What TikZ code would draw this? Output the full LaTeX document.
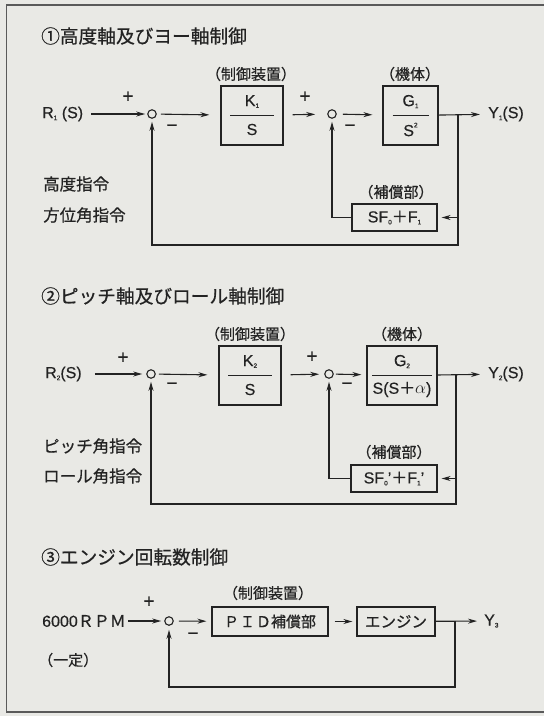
\documentclass[tikz,border=0pt]{standalone}
\usepackage{fontspec}
\setmainfont{Liberation Sans}[FakeBold=0.4]
\newfontfamily\jp{Noto Sans CJK JP}[FakeBold=0.6]
\usetikzlibrary{arrows.meta}
\definecolor{bg}{RGB}{233,233,229}
\definecolor{ink}{RGB}{35,35,35}
\definecolor{frm}{RGB}{90,90,90}
\newcommand\sbs[1]{\raisebox{-0.12em}{\fontsize{6.5}{6.5}\selectfont #1}}
\newcommand\sps[1]{\raisebox{0.55em}{\fontsize{6.5}{6.5}\selectfont #1}}
\tikzset{
 arr/.style={draw=ink, line width=1.1pt, -{Stealth[length=9pt,width=5pt]}},
 ln/.style={draw=ink, line width=1.1pt},
 sumpt/.style={circle, draw=ink, line width=1.1pt, inner sep=0pt, minimum size=8.5pt},
 blk/.style={draw=ink, line width=1.2pt, inner sep=0pt},
 ttl/.style={anchor=west, font=\jp\fontsize{18.7}{20}\selectfont, text=ink, inner sep=0pt},
 lab/.style={font=\jp\fontsize{15}{16}\selectfont, text=ink, inner sep=0pt},
 cmd/.style={anchor=west, font=\jp\fontsize{16.5}{18}\selectfont, text=ink, inner sep=0pt},
 lat/.style={font=\fontsize{16}{17}\selectfont, text=ink, inner sep=0pt},
 sgn/.style={font=\fontsize{19}{20}\selectfont, text=ink, inner sep=0pt},
}
\begin{document}
\begin{tikzpicture}[x=1pt,y=-1pt]
\useasboundingbox (0,0) rectangle (544,716);
\fill[bg] (0,0) rectangle (544,716);
\draw[frm, line width=1.5pt] (544,5) -- (6.5,5) -- (6.5,712) -- (544,712);

% ---------- Section 1 ----------
\node[ttl] (title1) at (41,36) {①高度軸及びヨー軸制御};
\node[lab] (ctl1) at (251,74) {（制御装置）};
\node[lab] (plant1) at (410,74) {（機体）};
\node[blk, minimum width=62pt, minimum height=59pt] (k1) at (252,115.5) {};
\node[lat] (k1n) at ([yshift=14pt]k1.center) {K\sbs{1}};
\draw[ln] ([xshift=-22pt]k1.center) -- ([xshift=22pt]k1.center);
\node[lat] (k1d) at ([yshift=-14pt]k1.center) {S};
\node[blk, minimum width=55pt, minimum height=59pt] (g1) at (410.5,115.5) {};
\node[lat] (g1n) at ([yshift=14pt]g1.center) {G\sbs{1}};
\draw[ln] ([xshift=-18pt]g1.center) -- ([xshift=18pt]g1.center);
\node[lat] (g1d) at ([yshift=-14pt]g1.center) {S\sps{2}};
\node[lat, anchor=west] (r1) at (42,114) {R\sbs{1}\ (S)};
\node[sumpt] (s1) at (152,114) {};
\node[sumpt] (s2) at (332,114) {};
\node[lat, anchor=west] (y1) at (488,114) {Y\sbs{1}(S)};
\coordinate (b1) at (458,114);
\coordinate (bot1) at (0,245);
\node[blk, minimum width=85pt, minimum height=27pt] (h1) at (394.5,217.5) {};
\node[lat] (h1t) at (h1.center) {SF\sbs{0}{\jp ＋}F\sbs{1}};
\node[lab] (comp1) at (396,192) {（補償部）};
\node[cmd] (cmd1a) at (43,184) {高度指令};
\node[cmd] (cmd1b) at (43,215) {方位角指令};
\node[sgn] (p1) at (128,97) {+};
\node[sgn] (m1) at (172,128) {−};
\node[sgn] (p2) at (305,97) {+};
\node[sgn] (m2) at (350,128) {−};
\draw[arr, shorten <=8pt, shorten >=2pt] (r1) -- (s1);
\draw[arr, shorten <=4pt, shorten >=11pt] (s1) -- (k1);
\draw[arr, shorten <=9pt, shorten >=12pt] (k1) -- (s2);
\draw[arr, shorten <=6pt, shorten >=10pt] (s2) -- (g1);
\draw[arr, shorten >=8pt] (g1) -- (y1);
\draw[arr, shorten >=3pt] (b1) -- (b1 |- bot1) -| (s1);
\draw[arr, shorten >=4pt] (b1 |- h1.east) -- (h1.east);
\draw[arr, shorten >=3pt] (h1.west) -| (s2);

% ---------- Section 2 ----------
\node[ttl] (title2) at (41,296) {②ピッチ軸及びロール軸制御};
\node[lab] (ctl2) at (250,334) {（制御装置）};
\node[lab] (plant2) at (402,334) {（機体）};
\node[blk, minimum width=62pt, minimum height=59pt] (k2) at (250,375.5) {};
\node[lat] (k2n) at ([yshift=14pt]k2.center) {K\sbs{2}};
\draw[ln] ([xshift=-22pt]k2.center) -- ([xshift=22pt]k2.center);
\node[lat] (k2d) at ([yshift=-14pt]k2.center) {S};
\node[blk, minimum width=70pt, minimum height=59pt] (g2) at (402,375.5) {};
\node[lat] (g2n) at ([yshift=14pt]g2.center) {G\sbs{2}};
\draw[ln] ([xshift=-30pt]g2.center) -- ([xshift=30pt]g2.center);
\node[lat] (g2d) at ([yshift=-14pt]g2.center) {S(S{\jp ＋}$\alpha$)};
\node[lat, anchor=west] (r2) at (45,374) {R\sbs{2}(S)};
\node[sumpt] (s3) at (151,374) {};
\node[sumpt] (s4) at (329,374) {};
\node[lat, anchor=west] (y2) at (488,374) {Y\sbs{2}(S)};
\coordinate (b2) at (456,374);
\coordinate (bot2) at (0,504);
\node[blk, minimum width=86pt, minimum height=27pt] (h2) at (394,478.5) {};
\node[lat] (h2t) at (h2.center) {SF\sbs{0}'{\jp ＋}F\sbs{1}'};
\node[lab] (comp2) at (394,452) {（補償部）};
\node[cmd] (cmd2a) at (43,446) {ピッチ角指令};
\node[cmd] (cmd2b) at (43,476) {ロール角指令};
\node[sgn] (p3) at (123,358) {+};
\node[sgn] (m3) at (172,386) {−};
\node[sgn] (p4) at (312,357) {+};
\node[sgn] (m4) at (347,386) {−};
\draw[arr, shorten <=13pt, shorten >=4pt] (r2) -- (s3);
\draw[arr, shorten <=3pt, shorten >=11pt] (s3) -- (k2);
\draw[arr, shorten <=9pt, shorten >=5pt] (k2) -- (s4);
\draw[arr, shorten <=2pt, shorten >=5pt] (s4) -- (g2);
\draw[arr, shorten >=8pt] (g2) -- (y2);
\draw[arr, shorten >=3pt] (b2) -- (b2 |- bot2) -| (s3);
\draw[arr, shorten >=4pt] (b2 |- h2.east) -- (h2.east);
\draw[arr, shorten >=3pt] (h2.west) -| (s4);

% ---------- Section 3 ----------
\node[ttl] (title3) at (41,557) {③エンジン回転数制御};
\node[lab] (ctl3) at (268,593) {（制御装置）};
\node[lat, anchor=west] (rpm) at (42,621) {6000{\jp ＲＰＭ}};
\node[sgn] (p5) at (149,602) {+};
\node[sgn] (m5) at (193,636) {−};
\node[sumpt] (s5) at (169,621) {};
\node[blk, minimum width=116pt, minimum height=29pt, font=\jp\fontsize{15}{16}\selectfont, text=ink] (pid) at (270,621.5) {Ｐ\hspace{1pt}Ｉ\hspace{1pt}Ｄ補償部};
\node[blk, minimum width=78pt, minimum height=29pt, font=\jp\fontsize{15.5}{16}\selectfont, text=ink] (eng) at (396,621.5) {エンジン};
\node[lat, anchor=west] (y3) at (484,621) {Y\sbs{3}};
\coordinate (b3) at (455,621);
\coordinate (bot3) at (0,687);
\node[lab, anchor=west] (const) at (38,660) {（一定）};
\draw[arr, shorten <=2pt, shorten >=3pt] (rpm) -- (s5);
\draw[arr, shorten <=5pt, shorten >=5pt] (s5) -- (pid);
\draw[arr, shorten <=6pt, shorten >=4pt] (pid) -- (eng);
\draw[arr, shorten >=7pt] (eng) -- (y3);
\draw[arr, shorten >=4pt] (b3) -- (b3 |- bot3) -| (s5);
\end{tikzpicture}
\end{document}
